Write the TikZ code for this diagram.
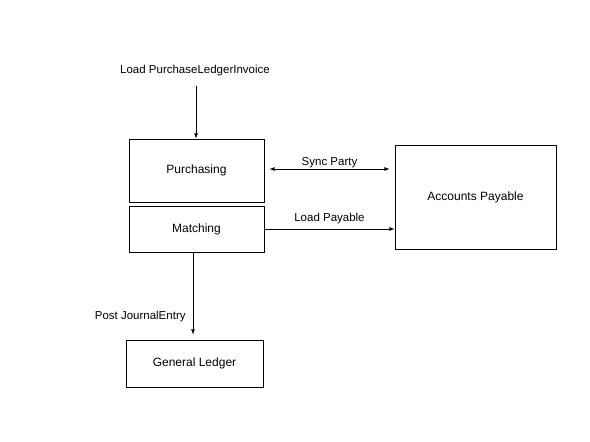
\documentclass[tikz,border=0pt]{standalone}
\usepackage{fontspec}
\setmainfont{Liberation Sans}
\usepackage{tikz}
\usetikzlibrary{arrows.meta}
\usetikzlibrary{positioning}
\usetikzlibrary{calc}

\begin{document}
\begin{tikzpicture}[
  x=1pt,y=-1pt,
  line width=0.8pt,
  >=latex,
  box/.style={draw,rectangle,inner sep=0,font=\fontsize{12}{14}\selectfont},
  lbl/.style={font=\fontsize{11.5}{13}\selectfont,inner sep=1pt},
]
\useasboundingbox (0,0) rectangle (590,442);
  \node[box,minimum width=135pt,minimum height=63pt] (purch) at (196.5,170.5) {Purchasing};
  \node[box,minimum width=135pt,minimum height=46pt] (match) at (196.5,229) {Matching};
  \node[box,minimum width=161pt,minimum height=104pt] (ap) at (475.5,197) {Accounts Payable};
  \node[box,minimum width=137pt,minimum height=47pt] (gl) at (194.5,363.5) {General Ledger};

  \node[lbl] (load) at (195,71) {Load PurchaseLedgerInvoice};
  \coordinate (in) at (196,86);

%arrows
\draw[->] (in) -- (in |- purch.north);
\draw[<->,shorten <=5pt,shorten >=5pt] ([yshift=1.5pt]purch.east) -- ([yshift=1.5pt]purch.east -| ap.west)
  node[lbl,midway,above=0pt] {Sync Party};
\draw[->] (match.east) -- (match.east -| ap.west)
  node[lbl,midway,above=4pt] {Load Payable};
\draw[->,shorten >=5pt] ([xshift=-3.5pt]match.south) -- ([xshift=-3.5pt]match.south |- gl.north)
  node[lbl,pos=0.73,left=6pt] {Post JournalEntry};
\end{tikzpicture}
\end{document}
